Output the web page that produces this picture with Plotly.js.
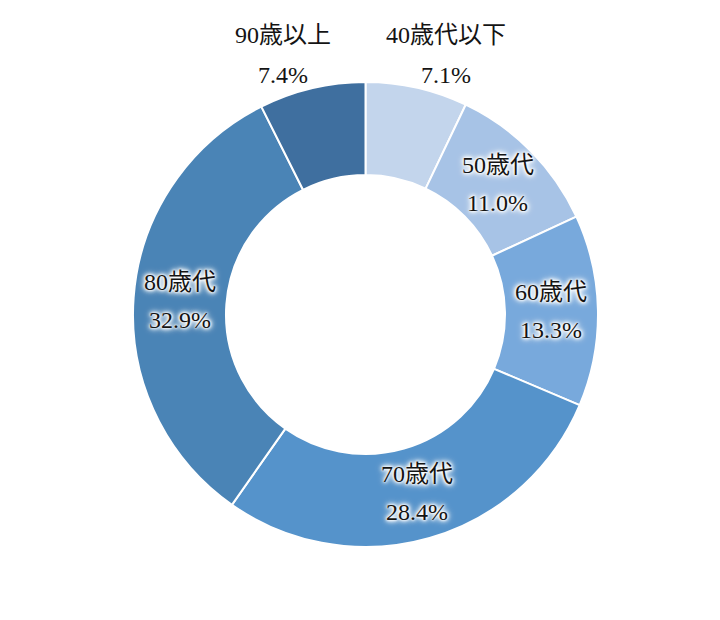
<!DOCTYPE html>
<html>
<head>
<meta charset="utf-8">
<script src="https://cdn.plot.ly/plotly-3.0.1.min.js"></script>
<style>html,body{margin:0;padding:0;background:#fff;}</style>
</head>
<body>
<div id="chart" style="width:720px;height:620px;"></div>
<script>
const categories = ["40歳代以下", "50歳代", "60歳代", "70歳代", "80歳代", "90歳以上"];
const values = [7.1, 11.0, 13.3, 28.4, 32.9, 7.4];
const colors = ["#c3d5ec", "#a7c3e6", "#78a9dc", "#5593cb", "#4a84b6", "#3f6f9f"];
const outsideLabels = ["40歳代以下", "90歳以上"];

const W = 720, H = 620;
const margin = {l: 133, r: 122, t: 82, b: 73};
const plotW = W - margin.l - margin.r;
const R = plotW / 2;
const holeFrac = 0.6;
const midR = R * (1 + holeFrac) / 2;

const fontFamily = '"Liberation Serif", "Times New Roman", "Noto Sans CJK JP", serif';
const haloShadow = "0px 0px 2px #ffffff, 0px 0px 3px #ffffff, 0px 0px 4px #ffffff, 0px 0px 5px #ffffff, 0px 0px 6px #ffffff, 0px 0px 8px #ffffff";

const total = values.reduce((a, b) => a + b, 0);
const annotations = [];
let cum = 0;
values.forEach((v, i) => {
  const mid = (cum + v / 2) / total * 2 * Math.PI;
  cum += v;
  const pctText = v.toFixed(1) + "%";
  const isOut = outsideLabels.indexOf(categories[i]) >= 0;
  let px, py, lx, ly;
  if (isOut) {
    const ox = R * Math.sin(mid), oy = R * Math.cos(mid);
    const side = ox >= 0 ? 1 : -1;
    px = ox + side * 29; py = oy + 13;
    lx = px; ly = py + 40;
  } else {
    const cx = midR * Math.sin(mid), cy = midR * Math.cos(mid);
    px = cx; py = cy - 19;
    lx = cx; ly = cy + 19;
  }
  const f = {family: fontFamily, size: 24, color: "#141414"};
  if (!isOut) f.shadow = haloShadow;
  annotations.push({xref: "paper", yref: "paper", x: 0.5, y: 0.5, xshift: lx, yshift: ly,
    text: categories[i], showarrow: false, xanchor: "center", yanchor: "middle", font: Object.assign({}, f)});
  annotations.push({xref: "paper", yref: "paper", x: 0.5, y: 0.5, xshift: px, yshift: py,
    text: pctText, showarrow: false, xanchor: "center", yanchor: "middle", font: Object.assign({}, f)});
});

const trace = {
  type: "pie",
  labels: categories,
  values: values,
  hole: holeFrac,
  sort: false,
  direction: "clockwise",
  rotation: 0,
  textinfo: "none",
  hoverinfo: "label+value",
  marker: {colors: colors, line: {color: "#ffffff", width: 2}},
  showlegend: false
};

const layout = {
  width: W, height: H,
  margin: margin,
  paper_bgcolor: "#ffffff",
  plot_bgcolor: "#ffffff",
  showlegend: false,
  annotations: annotations
};

Plotly.newPlot("chart", [trace], layout, {displayModeBar: false, staticPlot: true});
</script>
</body>
</html>
